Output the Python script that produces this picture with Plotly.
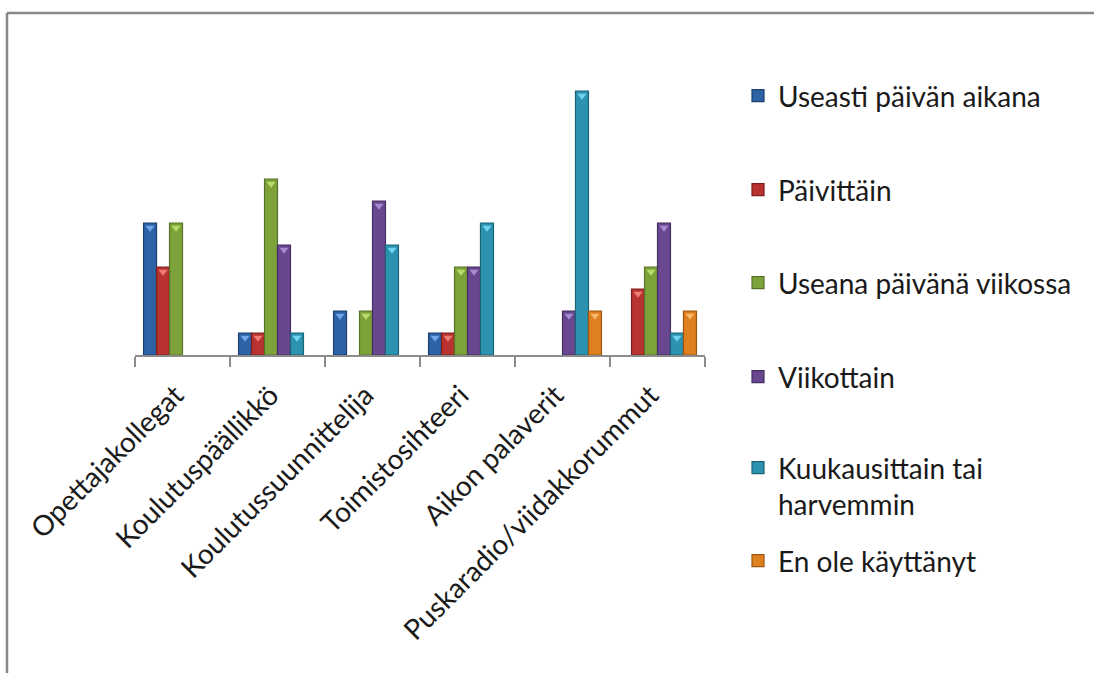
import plotly.graph_objects as go

# Communication channels and how often each was used
categories = [
    "Opettajakollegat",
    "Koulutuspäällikkö",
    "Koulutussuunnittelija",
    "Toimistosihteeri",
    "Aikon palaverit",
    "Puskaradio/viidakkorummut",
]

series_names = [
    "Useasti päivän aikana",
    "Päivittäin",
    "Useana päivänä viikossa",
    "Viikottain",
    "Kuukausittain tai<br>harvemmin",
    "En ole käyttänyt",
]

useasti_paivassa = [6, 1, 2, 1, 0, 0]
paivittain = [4, 1, 0, 1, 0, 3]
useana_paivana_viikossa = [6, 8, 2, 4, 0, 4]
viikottain = [0, 5, 7, 4, 2, 6]
kuukausittain = [0, 1, 5, 6, 12, 1]
en_ole_kayttanyt = [0, 0, 0, 0, 2, 2]

series_values = [
    useasti_paivassa,
    paivittain,
    useana_paivana_viikossa,
    viikottain,
    kuukausittain,
    en_ole_kayttanyt,
]

fill_colors = ["#2d62a5", "#b8322f", "#7ea23a", "#68478f", "#2b93b0", "#e07f1f"]
edge_colors = ["#1c3f6e", "#7a1f1d", "#56722a", "#452e60", "#1b6377", "#9c5512"]
tip_colors = ["#6fa6e8", "#ee7b76", "#b7dc6a", "#a68bd0", "#6dd3ef", "#f7b66a"]

FONT = "Lato, 'Open Sans', sans-serif"

fig = go.Figure()

for name, vals, fc, ec in zip(series_names, series_values, fill_colors, edge_colors):
    fig.add_trace(go.Bar(
        x=categories,
        y=[v if v else None for v in vals],
        name=name,
        marker=dict(color=fc, line=dict(color=ec, width=1.2)),
        offsetgroup=name,
        hoverinfo="x+y",
    ))

# small bevel tips at the top of each column
for name, vals, tc in zip(series_names, series_values, tip_colors):
    fig.add_trace(go.Scatter(
        x=categories,
        y=[v - 0.22 if v else None for v in vals],
        mode="markers",
        orientation="v",
        offsetgroup=name,
        marker=dict(symbol="triangle-down", size=8, color=tc, line=dict(width=0)),
        showlegend=False,
        hoverinfo="skip",
    ))

# one legend per series so each entry sits at its own height
legend_centers = [96, 190, 283, 377, 486, 561]
layout_legends = {}
for i, yc in enumerate(legend_centers):
    key = "legend" if i == 0 else f"legend{i + 1}"
    fig.data[i].legend = key
    layout_legends[key] = dict(
        xref="container", yref="container",
        x=738 / 1094, y=1 - yc / 673,
        xanchor="left", yanchor="middle",
        valign="top",
        bgcolor="rgba(0,0,0,0)",
        font=dict(family=FONT, size=28, color="#1a1a1a"),
        itemwidth=30,
    )

fig.update_layout(
    width=1094,
    height=673,
    autosize=False,
    margin=dict(l=135, r=389, t=47, b=318, autoexpand=False),
    paper_bgcolor="white",
    plot_bgcolor="white",
    barmode="group",
    bargap=0.18,
    bargroupgap=0,
    scattermode="group",
    scattergap=0.18,
    font=dict(family=FONT, color="#1a1a1a"),
    xaxis=dict(
        type="category",
        showline=True,
        linecolor="#8c8c8c",
        linewidth=1.5,
        ticks="outside",
        tickson="boundaries",
        ticklen=10,
        tickcolor="#8c8c8c",
        tickwidth=1.5,
        tickangle=-45,
        ticklabelstandoff=11,
        ticklabelshift=-7,
        tickfont=dict(family=FONT, size=28, color="#1a1a1a"),
        showgrid=False,
        automargin=False,
    ),
    yaxis=dict(
        range=[0, 14],
        visible=False,
        showgrid=False,
        zeroline=False,
    ),
    shapes=[
        # chart frame
        dict(type="line", xref="paper", yref="paper",
             x0=(7 - 135) / 570, x1=(1200 - 135) / 570,
             y0=(355 - 13) / 308, y1=(355 - 13) / 308,
             line=dict(color="#888888", width=2.5)),
        dict(type="line", xref="paper", yref="paper",
             x0=(7 - 135) / 570, x1=(7 - 135) / 570,
             y0=(355 - 13) / 308, y1=(355 - 700) / 308,
             line=dict(color="#888888", width=2.5)),
    ],
    **layout_legends,
)

fig.write_html("out.html")
